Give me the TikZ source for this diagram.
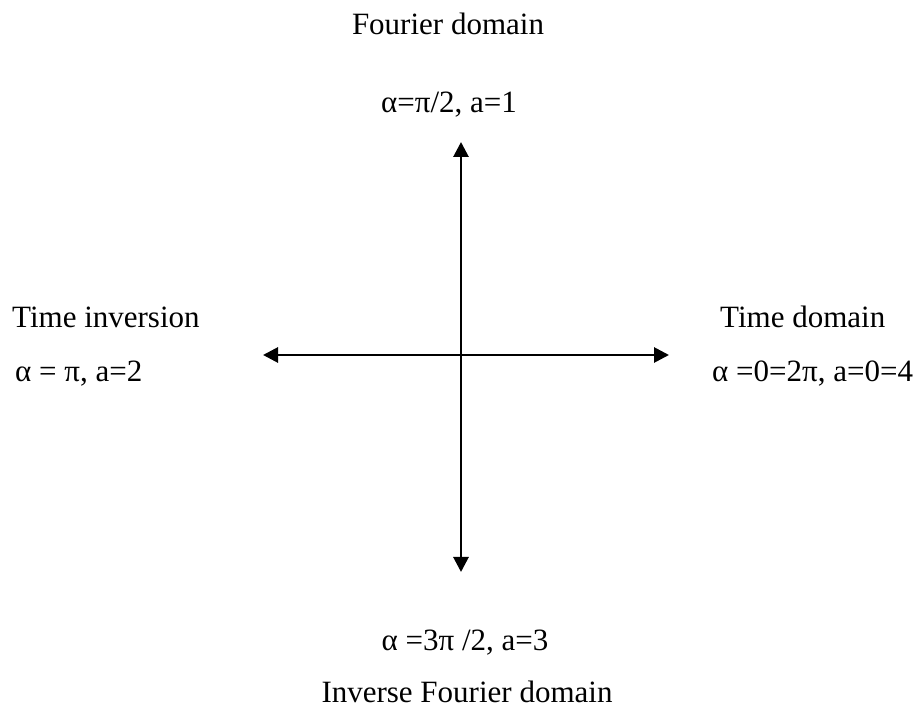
\documentclass[tikz,border=0pt]{standalone}
\usepackage{fontspec}
\setmainfont{Liberation Serif}
\usetikzlibrary{arrows.meta}
\tikzset{
  lbl/.style={inner sep=0pt, font=\fontsize{31}{37}\selectfont},
  axisline/.style={line width=2.8pt, {Triangle[length=15pt,width=15pt]}-{Triangle[length=15pt,width=15pt]}}
}
\begin{document}
\begin{tikzpicture}[x=1pt,y=-1pt]
\useasboundingbox (0,0) rectangle (914,708);
\coordinate (top) at (461,142);
\coordinate (bot) at (461,572);
\coordinate (lft) at (263,355);
\coordinate (rgt) at (669,355);
\draw[axisline] (bot) -- (top);
\draw[axisline] (lft) -- (rgt);
\node[lbl, anchor=base] (fd) at (448,35) {Fourier domain};
\node[lbl, anchor=base] (fda) at (449,113) {α=π/2, a=1};
\node[lbl, anchor=base west] (ti) at (12,328) {Time inversion};
\node[lbl, anchor=base west] (tia) at (15,382) {α = π, a=2};
\node[lbl, anchor=base west] (td) at (720,328) {Time domain};
\node[lbl, anchor=base west] (tda) at (712,382) {α =0=2π, a=0=4};
\node[lbl, anchor=base] (ifda) at (465,650) {α =3π /2, a=3};
\node[lbl, anchor=base] (ifd) at (467,702) {Inverse Fourier domain};
\end{tikzpicture}
\end{document}
